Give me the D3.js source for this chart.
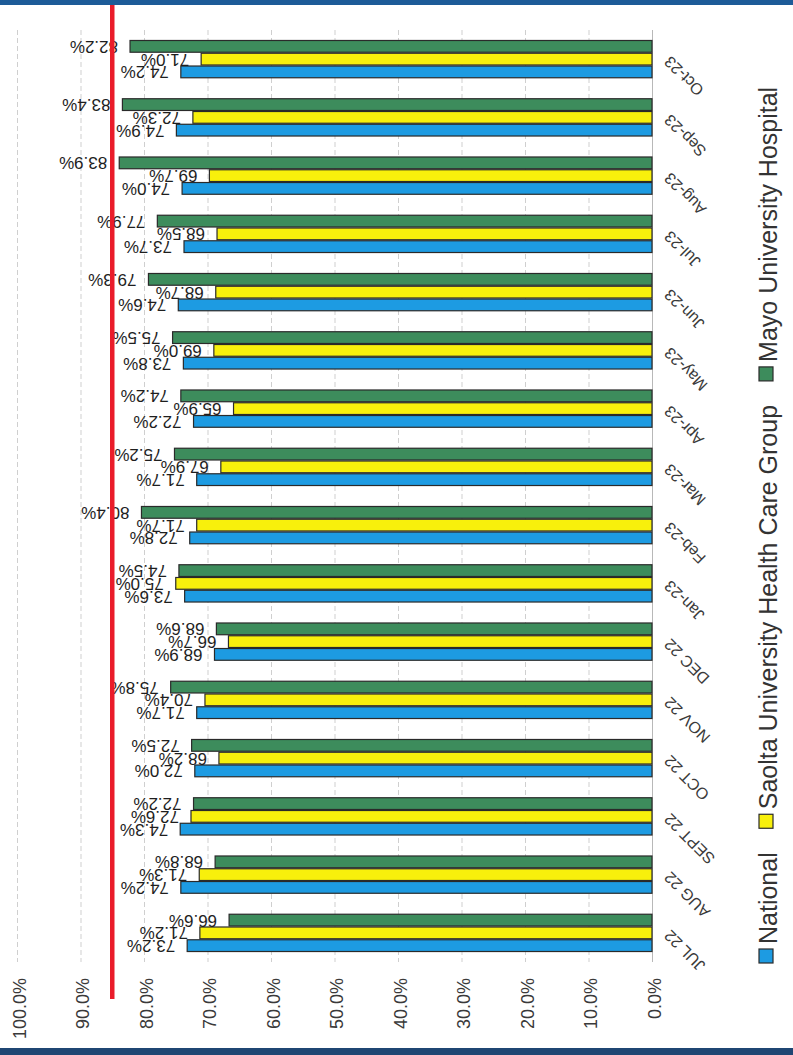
<!DOCTYPE html>
<html lang="en">
<head>
<meta charset="UTF-8">
<title>ED PET within 6 hours</title>
<script src="https://cdn.jsdelivr.net/npm/d3@7"></script>
<style>
    html, body {
        margin: 0;
        padding: 0;
        background: #fff;
    }
    svg {
        display: block;
        font-family: "Liberation Sans", Arial, sans-serif;
    }
</style>
</head>
<body>
<script>
const categories = ["JUL 22", "AUG 22", "SEPT 22", "OCT 22", "NOV 22", "DEC 22", "Jan-23", "Feb-23",
    "Mar-23", "Apr-23", "May-23", "Jun-23", "Jul-23", "Aug-23", "Sep-23", "Oct-23"]
const national = [73.2, 74.2, 74.3, 72.0, 71.7, 68.9, 73.6, 72.8, 71.7, 72.2, 73.8, 74.6, 73.7, 74.0, 74.9, 74.2]
const saolta   = [71.2, 71.3, 72.6, 68.2, 70.4, 66.7, 75.0, 71.7, 67.9, 65.9, 69.0, 68.7, 68.5, 69.7, 72.3, 71.0]
const mayo     = [66.6, 68.8, 72.2, 72.5, 75.8, 68.6, 74.5, 80.4, 75.2, 74.2, 75.5, 79.3, 77.9, 83.9, 83.4, 82.2]
const seriesNames = ["National", "Saolta University Health Care Group", "Mayo University Hospital"]
const tickValues = [0, 10, 20, 30, 40, 50, 60, 70, 80, 90, 100]
const target = 85

const series = [national, saolta, mayo]
const colors = ["#1d9be2", "#f8f00c", "#3d8c5c"]

const W = 793, H = 1055

const svg = d3.select("body").append("svg")
    .attr("width", W)
    .attr("height", H)

// page edges of the scan
svg.append("rect").attr("x", 0).attr("y", 0).attr("width", W).attr("height", 5).attr("fill", "#1d5b98")
svg.append("rect").attr("x", 0).attr("y", 1048).attr("width", W).attr("height", 7).attr("fill", "#1f4673")

// value axis runs right -> left, categories bottom -> top
const x = d3.scaleLinear().domain([0, 100]).range([652, 17])
const y = d3.scaleBand().domain(categories).range([962, 30]).paddingInner(0.36).paddingOuter(0.18)
// mayo on top, national at the bottom of each group
const sub = d3.scaleBand().domain([2, 1, 0]).range([0, y.bandwidth()]).paddingInner(0.08)

// gridlines
svg.append("g")
    .selectAll("line")
    .data(tickValues)
    .join("line")
    .attr("x1", d => x(d) + 0.5)
    .attr("x2", d => x(d) + 0.5)
    .attr("y1", 30)
    .attr("y2", 962)
    .attr("stroke", d => d == 0 ? "#b8b8b8" : "#cfcfcf")
    .attr("stroke-width", 1)
    .attr("stroke-dasharray", d => d == 0 ? null : "5,3")

// value tick labels, read bottom to top
const xAxis = svg.append("g")
    .attr("transform", "translate(0,978)")
    .call(d3.axisBottom(x).tickValues(tickValues).tickFormat(d => d.toFixed(1) + "%").tickSize(0))
xAxis.select(".domain").remove()
xAxis.selectAll("text")
    .attr("x", 0)
    .attr("y", 0)
    .attr("dy", null)
    .attr("transform", "rotate(-90) translate(0,2)")
    .attr("text-anchor", "end")
    .attr("dominant-baseline", "central")
    .attr("fill", "#3a3a3a")
    .attr("font-size", 18)
    .attr("font-family", "Liberation Sans, Arial, sans-serif")

// category labels, slanted
svg.append("g")
    .selectAll("text")
    .data(categories)
    .join("text")
    .attr("transform", d => `translate(667,${y(d) + y.bandwidth() / 2}) rotate(-135)`)
    .attr("text-anchor", "end")
    .attr("dominant-baseline", "central")
    .attr("fill", "#3a3a3a")
    .attr("font-size", 16)
    .text(d => d)

// bars
const groups = svg.append("g")
    .selectAll("g")
    .data(categories)
    .join("g")
    .attr("transform", d => `translate(0,${y(d)})`)

groups.selectAll("rect")
    .data((d, i) => series.map((s, k) => ({ k, v: s[i] })))
    .join("rect")
    .attr("x", d => x(d.v))
    .attr("y", d => sub(d.k))
    .attr("width", d => x(0) - x(d.v))
    .attr("height", sub.bandwidth())
    .attr("fill", d => colors[d.k])
    .attr("stroke", "#2a2a2a")
    .attr("stroke-width", 1.2)

// value labels, upside down like the scan
groups.selectAll("text")
    .data((d, i) => series.map((s, k) => ({ k, v: s[i] })))
    .join("text")
    .attr("transform", d => `translate(${x(d.v) - 12},${sub(d.k) + sub.bandwidth() / 2}) rotate(180)`)
    .attr("text-anchor", "start")
    .attr("dominant-baseline", "central")
    .attr("fill", "#1e1e1e")
    .attr("font-size", 17)
    .text(d => d.v.toFixed(1) + "%")

// target line
svg.append("line")
    .attr("x1", x(target))
    .attr("x2", x(target))
    .attr("y1", 5)
    .attr("y2", 999)
    .attr("stroke", "#ea1c2a")
    .attr("stroke-width", 4.5)

// legend, stacked bottom to top
const legend = svg.append("g")
let ly = 963
seriesNames.forEach((name, k) => {
    legend.append("rect")
        .attr("x", 759)
        .attr("y", ly - 14)
        .attr("width", 14)
        .attr("height", 14)
        .attr("fill", colors[k])
        .attr("stroke", "#2a2a2a")
        .attr("stroke-width", 1.2)
    const t = legend.append("text")
        .attr("transform", `translate(777,${ly - 19}) rotate(-90)`)
        .attr("text-anchor", "start")
        .attr("fill", "#333")
        .attr("font-size", 25)
        .text(name)
    ly = ly - 19 - t.node().getComputedTextLength() - 24
})
</script>
</body>
</html>
